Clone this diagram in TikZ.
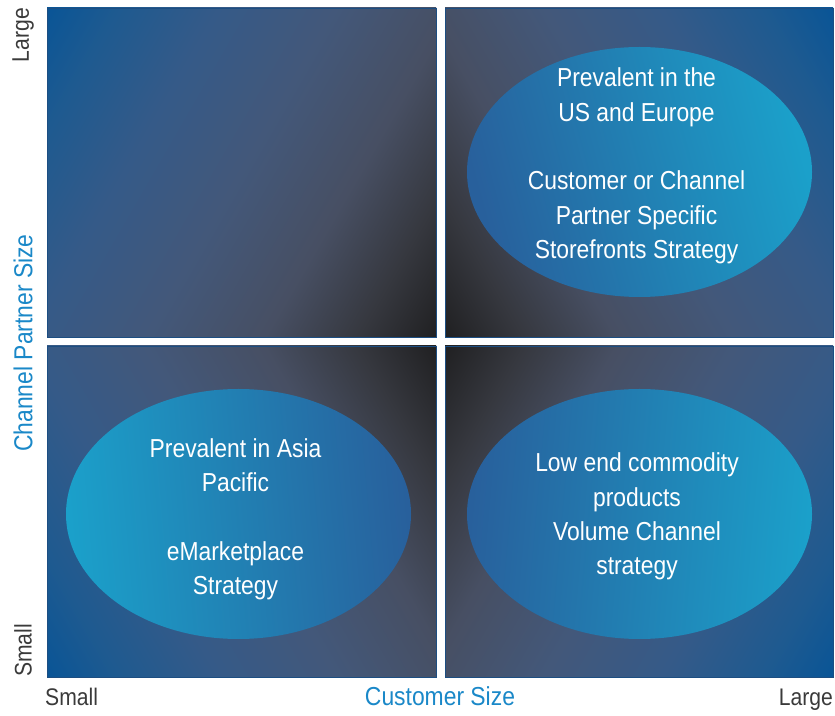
\documentclass[tikz,border=0pt]{standalone}
\usepackage{fontspec}
\setmainfont{Liberation Sans}[FakeStretch=0.88]
\usepackage{tikz}
\usetikzlibrary{positioning, shapes.geometric}

\definecolor{qblue}{HTML}{0A5596}
\definecolor{qblueb}{HTML}{1E5A90}
\definecolor{qsteel}{HTML}{355A88}
\definecolor{qslate}{HTML}{43587A}
\definecolor{qgrey}{HTML}{474F63}
\definecolor{qdim}{HTML}{36383F}
\definecolor{qdark}{HTML}{212123}
\definecolor{qedge}{HTML}{1C4E82}
\definecolor{bubbleDark}{HTML}{28609C}
\definecolor{bubbleLight}{HTML}{1BA0CA}
\definecolor{axisblue}{HTML}{1A88C8}
\definecolor{axisgray}{HTML}{3A3A3A}

% blue at the outer corner, fading to near black at the inner one
\pgfdeclarehorizontalshading{quadfade}{100bp}{color(0bp)=(qblue); color(16bp)=(qblue);
  color(24bp)=(qblueb); color(36bp)=(qsteel); color(50bp)=(qslate);
  color(64bp)=(qgrey); color(75bp)=(qdim); color(84bp)=(qdark); color(100bp)=(qdark)}

\begin{document}
\begin{tikzpicture}[x=1pt, y=1pt,
    quad/.style={shading=quadfade, draw=qedge, line width=0.6pt},
    bubble/.style={ellipse, minimum width=345pt, minimum height=250pt, inner sep=0pt,
      left color=bubbleDark, right color=bubbleLight},
    bubbletext/.style={text=white, align=center, inner sep=0pt,
      font=\fontsize{26}{34.3}\selectfont},
    axistitle/.style={text=axisblue, inner sep=0pt, font=\fontsize{26}{30}\selectfont},
    axisend/.style={text=axisgray, inner sep=0pt, font=\fontsize{24}{28}\selectfont},
  ]
  \useasboundingbox (0,0) rectangle (835,715);

  % four quadrants, dark where they meet
  \shade[quad, shading angle=330] (47,378) rectangle (436,707);
  \shade[quad, shading angle=210] (445,378) rectangle (833,707);
  \shade[quad, shading angle=30]  (47,38)  rectangle (436,369);
  \shade[quad, shading angle=150] (445,38) rectangle (833,369);

  % strategy bubbles (left/right colour shading is an axis shading turned by 90)
  \node[bubble, shading angle=105] (useu)   at (639.5,543) {};
  \node[bubble, shading angle=275] (asia)   at (238.5,201) {};
  \node[bubble, shading angle=85]  (volume) at (639.5,201) {};

  \node[bubbletext] at ([shift={(-3,6)}]useu.center)
    {Prevalent in the\\US and Europe\\[34.3pt]Customer or Channel\\Partner Specific\\Storefronts Strategy};
  \node[bubbletext] at ([shift={(-3,-5)}]asia.center)
    {Prevalent in Asia\\Pacific\\[34.3pt]eMarketplace\\Strategy};
  \node[bubbletext] at ([shift={(-2.5,-2.5)}]volume.center)
    {Low end commodity\\products\\Volume Channel\\strategy};

  % axes
  \node[axistitle, rotate=90] (ylabel) at (23,372) {Channel Partner Size};
  \node[axisend, rotate=90, anchor=east] (ylarge) at (23,707) {Large};
  \node[axisend, rotate=90, anchor=west] (ysmall) at (23,38) {Small};
  \node[axistitle, anchor=base] (xlabel) at (440,9.5) {Customer Size};
  \node[axisend, anchor=base west] (xsmall) at (45,9.5) {Small};
  \node[axisend, anchor=base east] (xlarge) at (833,9.5) {Large};
\end{tikzpicture}
\end{document}
